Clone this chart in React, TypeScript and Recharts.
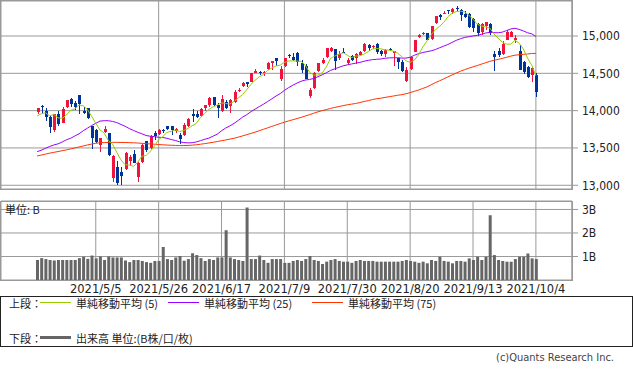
import { ComposedChart, Bar, Line, XAxis, YAxis, CartesianGrid } from "recharts"

const dates = [
  "2021/4/15", "2021/4/16", "2021/4/19", "2021/4/20", "2021/4/21", "2021/4/22", "2021/4/23", "2021/4/26", "2021/4/27", "2021/4/28", "2021/4/29", "2021/4/30",
  "2021/5/3", "2021/5/4", "2021/5/5", "2021/5/6", "2021/5/7", "2021/5/10", "2021/5/11", "2021/5/12", "2021/5/13", "2021/5/14",
  "2021/5/17", "2021/5/18", "2021/5/19", "2021/5/20", "2021/5/21", "2021/5/24", "2021/5/25", "2021/5/26", "2021/5/27", "2021/5/28",
  "2021/6/1", "2021/6/2", "2021/6/3", "2021/6/4", "2021/6/7", "2021/6/8", "2021/6/9", "2021/6/10", "2021/6/11", "2021/6/14", "2021/6/15",
  "2021/6/16", "2021/6/17", "2021/6/18", "2021/6/21", "2021/6/22", "2021/6/23", "2021/6/24", "2021/6/25", "2021/6/28", "2021/6/29", "2021/6/30",
  "2021/7/1", "2021/7/2", "2021/7/6", "2021/7/7", "2021/7/8", "2021/7/9", "2021/7/12", "2021/7/13", "2021/7/14", "2021/7/15", "2021/7/16",
  "2021/7/19", "2021/7/20", "2021/7/21", "2021/7/22", "2021/7/23", "2021/7/26", "2021/7/27", "2021/7/28", "2021/7/29", "2021/7/30",
  "2021/8/2", "2021/8/3", "2021/8/4", "2021/8/5", "2021/8/6", "2021/8/9", "2021/8/10", "2021/8/11", "2021/8/12", "2021/8/13",
  "2021/8/16", "2021/8/17", "2021/8/18", "2021/8/19", "2021/8/20", "2021/8/23", "2021/8/24", "2021/8/25", "2021/8/26", "2021/8/27", "2021/8/30", "2021/8/31",
  "2021/9/1", "2021/9/2", "2021/9/3", "2021/9/7", "2021/9/8", "2021/9/9", "2021/9/10", "2021/9/13", "2021/9/14", "2021/9/15", "2021/9/16", "2021/9/17",
  "2021/9/20", "2021/9/21", "2021/9/22", "2021/9/23", "2021/9/24", "2021/9/27", "2021/9/28", "2021/9/29", "2021/9/30", "2021/10/1", "2021/10/4",
]

const open = [
  13984, 14062, 13999, 13913, 13745, 13960, 13840, 14051, 14160, 14100, 14209, 14000, 14030, 13790, 13740, 13540, 13710, 13700, 13104, 13250,
  13178, 13220, 13330, 13415, 13110, 13310, 13590, 13500, 13700, 13690, 13745, 13790, 13790, 13730, 13680, 13670, 13800, 13950, 13950, 13930,
  14040, 14080, 14180, 14080, 13990, 14110, 14060, 14120, 14260, 14330, 14380, 14390, 14510, 14520, 14500, 14560, 14640, 14700, 14430, 14600,
  14740, 14720, 14770, 14640, 14600, 14200, 14300, 14530, 14640, 14720, 14800, 14820, 14700, 14790, 14640, 14730, 14700, 14740, 14800, 14880,
  14850, 14890, 14800, 14760, 14830, 14770, 14700, 14650, 14400, 14560, 14790, 14980, 15030, 15040, 14960, 15170, 15280, 15300, 15345, 15316,
  15380, 15350, 15300, 15300, 15230, 15160, 15050, 15130, 15160, 14760, 14800, 14760, 14950, 14990, 14940, 14800, 14650, 14590, 14480, 14480,
]
const high = [
  14041, 14075, 14030, 13930, 13952, 14000, 14050, 14145, 14170, 14130, 14211, 14050, 14030, 13790, 13750, 13640, 13790, 13700, 13401, 13320,
  13248, 13445, 13400, 13476, 13310, 13557, 13595, 13675, 13733, 13750, 13760, 13800, 13800, 13770, 13700, 13830, 13900, 14020, 13990, 14030,
  14080, 14180, 14185, 14100, 14203, 14140, 14150, 14270, 14300, 14380, 14390, 14510, 14560, 14530, 14530, 14645, 14670, 14710, 14600, 14710,
  14760, 14770, 14790, 14680, 14620, 14300, 14520, 14640, 14700, 14840, 14850, 14830, 14800, 14840, 14710, 14750, 14770, 14800, 14900, 14890,
  14880, 14900, 14810, 14820, 14835, 14800, 14710, 14680, 14580, 14720, 14950, 15030, 15060, 15045, 15140, 15270, 15290, 15340, 15350, 15380,
  15403, 15360, 15340, 15310, 15240, 15170, 15170, 15190, 15170, 14800, 14840, 14930, 15080, 15070, 15010, 14880, 14670, 14600, 14580, 14500,
]
const low = [
  13960, 13970, 13860, 13698, 13710, 13790, 13830, 14040, 14050, 14010, 13961, 13950, 13890, 13485, 13570, 13448, 13700, 13390, 13043, 13003,
  13002, 13210, 13260, 13300, 13050, 13300, 13450, 13490, 13600, 13670, 13700, 13735, 13680, 13700, 13550, 13660, 13780, 13850, 13900, 13920,
  14000, 14050, 14060, 13901, 13980, 14020, 13970, 14100, 14250, 14320, 14320, 14380, 14500, 14480, 14460, 14550, 14550, 14600, 14395, 14590,
  14700, 14660, 14600, 14500, 14420, 14170, 14290, 14520, 14620, 14700, 14780, 14550, 14680, 14770, 14610, 14660, 14620, 14730, 14790, 14800,
  14820, 14760, 14730, 14720, 14800, 14600, 14560, 14520, 14380, 14550, 14780, 14970, 15010, 14940, 14950, 15165, 15220, 15290, 15300, 15300,
  15340, 15200, 15245, 15110, 15050, 15000, 15020, 15080, 15010, 14530, 14720, 14750, 14940, 14980, 14900, 14540, 14490, 14440, 14380, 14180,
]
const close = [
  14039, 14052, 13915, 13786, 13950, 13818, 14017, 14139, 14090, 14051, 14083, 13963, 13895, 13634, 13582, 13633, 13752, 13402, 13389, 13032,
  13125, 13430, 13379, 13304, 13300, 13536, 13471, 13661, 13657, 13738, 13736, 13749, 13736, 13756, 13615, 13814, 13882, 13925, 13912, 14020,
  14069, 14174, 14073, 14040, 14161, 14030, 14141, 14253, 14272, 14370, 14360, 14501, 14528, 14504, 14522, 14639, 14664, 14665, 14560, 14702,
  14733, 14678, 14645, 14543, 14427, 14275, 14499, 14632, 14685, 14837, 14841, 14661, 14763, 14778, 14673, 14681, 14761, 14781, 14895, 14836,
  14860, 14788, 14765, 14816, 14823, 14794, 14656, 14526, 14542, 14715, 14943, 15020, 15042, 14946, 15130, 15266, 15259, 15309, 15331, 15364,
  15374, 15287, 15248, 15115, 15106, 15038, 15162, 15182, 15044, 14714, 14746, 14897, 15052, 15048, 14970, 14547, 14512, 14449, 14567, 14255,
]

const ma5 = [
  13928, 13959, 13972, 13930, 13948, 13904, 13897, 13942, 14003, 14023, 14076, 14065, 14016, 13925, 13831, 13741, 13699, 13601, 13552, 13442,
  13340, 13276, 13271, 13254, 13308, 13390, 13398, 13454, 13525, 13613, 13653, 13708, 13723, 13743, 13718, 13734, 13761, 13798, 13830, 13911,
  13962, 14020, 14050, 14075, 14103, 14096, 14089, 14125, 14171, 14213, 14279, 14351, 14406, 14453, 14483, 14539, 14571, 14599, 14610, 14646,
  14665, 14668, 14664, 14660, 14605, 14514, 14478, 14475, 14504, 14586, 14699, 14731, 14757, 14776, 14743, 14711, 14731, 14735, 14758, 14791,
  14827, 14832, 14829, 14813, 14810, 14797, 14771, 14723, 14668, 14647, 14676, 14749, 14852, 14933, 15016, 15081, 15129, 15182, 15259, 15306,
  15327, 15333, 15321, 15278, 15226, 15159, 15134, 15121, 15106, 15028, 14970, 14917, 14891, 14891, 14943, 14903, 14826, 14705, 14609, 14466,
]
const ma25 = [
  13450, 13470, 13495, 13520, 13540, 13555, 13580, 13610, 13630, 13660, 13690, 13730, 13765, 13800, 13830, 13860, 13865, 13865, 13855, 13840,
  13815, 13790, 13760, 13735, 13710, 13690, 13667, 13657, 13652, 13643, 13640, 13629, 13613, 13600, 13582, 13572, 13568, 13570, 13581, 13598,
  13616, 13632, 13659, 13685, 13731, 13767, 13795, 13830, 13869, 13912, 13945, 13986, 14020, 14054, 14086, 14122, 14158, 14196, 14228, 14271,
  14308, 14340, 14369, 14394, 14410, 14418, 14431, 14454, 14480, 14507, 14539, 14560, 14580, 14600, 14613, 14625, 14636, 14646, 14662, 14674,
  14683, 14688, 14692, 14702, 14707, 14709, 14709, 14704, 14704, 14715, 14742, 14763, 14779, 14790, 14801, 14818, 14842, 14864, 14886, 14914,
  14942, 14963, 14981, 14990, 15001, 15008, 15023, 15040, 15049, 15045, 15043, 15052, 15073, 15094, 15104, 15088, 15068, 15044, 15029, 14994,
]
const ma75 = [
  13392, 13405, 13418, 13430, 13441, 13452, 13463, 13474, 13487, 13500, 13513, 13526, 13540, 13552, 13562, 13570, 13572, 13574, 13575, 13575,
  13574, 13573, 13571, 13569, 13566, 13562, 13558, 13554, 13550, 13546, 13542, 13539, 13536, 13534, 13532, 13532, 13534, 13538, 13543, 13550,
  13558, 13567, 13576, 13586, 13597, 13607, 13618, 13630, 13645, 13661, 13677, 13694, 13712, 13731, 13750, 13769, 13789, 13808, 13827, 13845,
  13862, 13878, 13894, 13910, 13928, 13946, 13965, 13984, 14000, 14015, 14030, 14043, 14055, 14067, 14078, 14087, 14096, 14108, 14123, 14134,
  14148, 14159, 14167, 14177, 14187, 14196, 14206, 14214, 14226, 14241, 14259, 14276, 14297, 14318, 14346, 14375, 14399, 14425, 14452, 14479,
  14504, 14528, 14549, 14569, 14587, 14604, 14623, 14642, 14660, 14674, 14687, 14700, 14715, 14730, 14743, 14749, 14754, 14759, 14766, 14767,
]

// 出来高 (B)
const volume = [
  0.85, 0.93, 0.89, 0.85, 0.83, 0.85, 0.85, 0.85, 0.85, 0.85, 0.93, 0.99, 0.90, 1.04, 0.92, 1.00, 0.85, 1.00, 0.96, 0.96,
  0.96, 0.83, 0.76, 0.85, 0.85, 0.81, 0.76, 0.73, 0.81, 0.81, 1.40, 0.89, 0.85, 0.96, 1.02, 0.82, 0.89, 1.14, 1.06, 0.93,
  0.81, 0.89, 0.85, 0.96, 0.96, 2.12, 0.96, 0.89, 0.85, 0.81, 3.08, 0.89, 0.89, 1.04, 0.85, 0.73, 0.89, 0.89, 0.89, 0.73,
  0.73, 0.81, 0.85, 0.81, 0.89, 1.02, 0.85, 0.81, 0.68, 0.78, 0.85, 0.89, 0.81, 0.78, 0.78, 0.73, 0.81, 0.85, 0.81, 0.81,
  0.81, 0.78, 0.78, 0.78, 0.78, 0.78, 0.78, 0.81, 0.85, 0.81, 0.78, 0.73, 0.78, 0.71, 0.85, 0.81, 0.99, 0.81, 0.78, 0.71,
  0.81, 0.81, 0.78, 0.92, 0.85, 0.99, 0.85, 0.99, 2.75, 1.06, 0.85, 0.81, 0.78, 0.78, 0.89, 0.99, 0.99, 1.13, 0.92, 0.89,
]

const gridDates = ["2021/5/5", "2021/5/26", "2021/6/17", "2021/7/9", "2021/7/30", "2021/8/20", "2021/9/13", "2021/10/4"]
const priceTicks = [13000, 13500, 14000, 14500, 15000]
const volumeTicks = [1, 2, 3]

const UP = "#f0143c"
const DOWN = "#003399"
const GRID = "#999"
const LATIN = "'DejaVu Sans Condensed', 'DejaVu Sans', sans-serif"
const JP = "'Noto Sans CJK JP', sans-serif"

const rows = dates.map((date, i) => ({
  date,
  range: [low[i], high[i]],
  open: open[i],
  high: high[i],
  low: low[i],
  close: close[i],
  ma5: ma5[i],
  ma25: ma25[i],
  ma75: ma75[i],
  volume: volume[i],
}))

function Candle(props: any) {
  const { x, y, width, height, payload } = props
  if (x == null || y == null) return null
  const top = Math.min(y, y + height)
  const h = Math.abs(height)
  const k = payload.high === payload.low ? 0 : h / (payload.high - payload.low)
  const oy = top + (payload.high - payload.open) * k
  const cy = top + (payload.high - payload.close) * k
  const color = payload.close >= payload.open ? UP : DOWN
  const mid = Math.round(x + width / 2)
  return (
    <g shapeRendering="crispEdges">
      <line x1={mid + 0.5} x2={mid + 0.5} y1={top} y2={top + h} stroke={color} />
      <rect x={mid - 1} y={Math.min(oy, cy)} width={3} height={Math.max(1, Math.abs(oy - cy))} fill={color} />
    </g>
  )
}

const xPad = { left: 34, right: 34 }

const frame = { position: "absolute" as const, boxSizing: "border-box" as const, border: `1px solid ${GRID}`, pointerEvents: "none" as const }

export default function App() {
  return (
    <div style={{ position: "absolute", left: 0, top: 0, width: 633, height: 372, background: "#fff", fontFamily: LATIN }}>
      <div style={{ position: "absolute", left: 0, top: 190 }}>
        <ComposedChart width={633} height={106} data={rows} margin={{ top: 11, right: 0, bottom: 0, left: 1 }}>
          <CartesianGrid stroke={GRID} />
          <XAxis
            dataKey="date"
            ticks={gridDates}
            padding={xPad}
            height={16}
            axisLine={false}
            tickLine={false}
            tickSize={0}
            tickMargin={5}
            interval={0}
            tick={{ fontSize: 11.5, fill: "#222", fontFamily: "'DejaVu Sans', sans-serif" }}
          />
          <YAxis
            orientation="right"
            width={61}
            domain={[0, 3.36]}
            allowDataOverflow
            ticks={volumeTicks}
            interval={0}
            tickFormatter={(v: number) => `${v}B`}
            tick={{ fontSize: 12, fill: "#222", fontFamily: LATIN }}
            tickLine={{ stroke: GRID }}
            axisLine={{ stroke: GRID }}
            tickSize={6}
            tickMargin={4}
          />
          <Bar dataKey="volume" fill="#666" barSize={3} isAnimationActive={false} />
        </ComposedChart>
      </div>

      <div style={{ position: "absolute", left: 0, top: 0 }}>
        <ComposedChart width={633} height={200} data={rows} margin={{ top: 1, right: 0, bottom: 11, left: 1 }}>
          <CartesianGrid stroke={GRID} />
          <XAxis dataKey="date" hide ticks={gridDates} padding={xPad} />
          <YAxis
            orientation="right"
            width={61}
            domain={[12950, 15469]}
            allowDataOverflow
            ticks={priceTicks}
            interval={0}
            tickFormatter={(v: number) => v.toLocaleString("en-US")}
            tick={{ fontSize: 12, fill: "#222", fontFamily: LATIN }}
            tickLine={{ stroke: GRID }}
            axisLine={{ stroke: GRID }}
            tickSize={6}
            tickMargin={4}
          />
          <Bar dataKey="range" barSize={3} shape={(p: any) => <Candle {...p} />} isAnimationActive={false} />
          <Line dataKey="ma75" stroke="#ff3300" strokeWidth={1} dot={false} activeDot={false} isAnimationActive={false} />
          <Line dataKey="ma25" stroke="#9900ff" strokeWidth={1} dot={false} activeDot={false} isAnimationActive={false} />
          <Line dataKey="ma5" stroke="#99cc00" strokeWidth={1} dot={false} activeDot={false} isAnimationActive={false} />
        </ComposedChart>
      </div>

      <div style={{ ...frame, left: 0, top: 0, width: 573, height: 190 }} />
      <div style={{ ...frame, left: 0, top: 201, width: 573, height: 80 }} />

      <div style={{ position: "absolute", left: 5, top: 201, fontSize: 11, fontFamily: JP, color: "#222", lineHeight: "16px" }}>
        単位: B
      </div>

      <div
        style={{
          position: "absolute", left: 0, top: 296, width: 633, height: 51, boxSizing: "border-box",
          border: "1px solid #222", fontFamily: JP, fontSize: 11, color: "#222",
        }}
      >
        <div style={{ position: "absolute", left: 8, top: -1, lineHeight: "14px" }}>上段：</div>
        <div style={{ position: "absolute", left: 39, top: 5, width: 31, height: 1, background: "#99cc00" }} />
        <div style={{ position: "absolute", left: 75, top: -1, lineHeight: "14px" }}>単純移動平均 (5)</div>
        <div style={{ position: "absolute", left: 167, top: 5, width: 31, height: 1, background: "#9900ff" }} />
        <div style={{ position: "absolute", left: 203, top: -1, lineHeight: "14px" }}>単純移動平均 (25)</div>
        <div style={{ position: "absolute", left: 311, top: 5, width: 31, height: 1, background: "#ff3300" }} />
        <div style={{ position: "absolute", left: 347, top: -1, lineHeight: "14px" }}>単純移動平均 (75)</div>

        <div style={{ position: "absolute", left: 8, top: 34, lineHeight: "14px" }}>下段：</div>
        <div style={{ position: "absolute", left: 39, top: 39, width: 31, height: 3, background: "#666" }} />
        <div style={{ position: "absolute", left: 75, top: 34, lineHeight: "14px" }}>出来高 単位:(B株/口/枚)</div>
      </div>

      <div style={{ position: "absolute", right: 19, top: 351, fontSize: 11, fontFamily: "'DejaVu Sans Condensed', 'DejaVu Sans', sans-serif", color: "#444" }}>
        (c)Quants Research Inc.
      </div>
    </div>
  )
}
